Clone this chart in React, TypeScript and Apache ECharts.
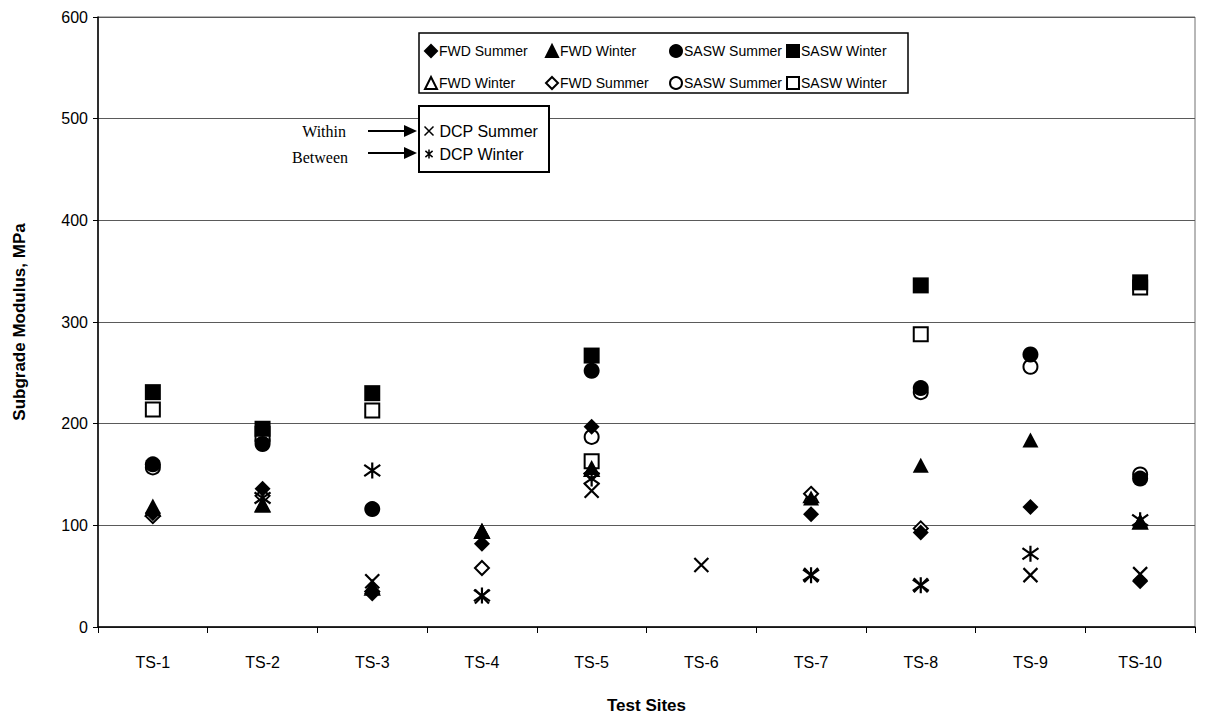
import React, { useEffect, useRef } from "react";
import * as echarts from "echarts";

const sites = ["TS-1", "TS-2", "TS-3", "TS-4", "TS-5", "TS-6", "TS-7", "TS-8", "TS-9", "TS-10"];

// "Within" markers (filled)
const fwdSummerFilled = [112, 136, 33, 82, 197, null, 111, 93, 118, 45];
const fwdWinterFilled = [119, 120, 40, 95, 157, null, 127, 159, 184, 104];
const saswSummerFilled = [160, 180, 116, null, 252, null, null, 235, 268, 146];
const saswWinterFilled = [231, 195, 230, null, 267, null, null, 336, null, 339];
// "Between" markers (open)
const fwdWinterOpen = [116, 120, 38, 94, 155, null, 129, null, null, 103];
const fwdSummerOpen = [109, 129, 35, 58, 151, null, 131, 97, null, null];
const saswSummerOpen = [157, 183, null, null, 187, null, null, 231, 256, 150];
const saswWinterOpen = [214, 190, 213, null, 163, null, null, 288, null, 334];
// DCP
const dcpSummer = [null, null, 45, 30, 134, 61, 51, 41, 51, 52];
const dcpWinter = [null, 127, 154, 31, 146, null, 51, 41, 72, 105];

const yTicks = [0, 100, 200, 300, 400, 500, 600];

const FONT = "Liberation Sans, Arial, sans-serif";
const X_PATH = "path://M0,0L10,10M10,0L0,10";
const AST_PATH = "path://M1,1.5L9,8.5M9,1.5L1,8.5M5,0L5,10";

export default function App() {
  const ref = useRef<HTMLDivElement>(null);
  useEffect(() => {
    if (!ref.current) return;
    const chart = echarts.init(ref.current, undefined, { renderer: "svg" });

    const filled = (name: string, data: any[], symbol: string, size: any) => ({
      name,
      type: "scatter",
      data,
      symbol,
      symbolSize: size,
      itemStyle: { color: "#000", borderColor: "#000", borderWidth: 0, opacity: 1 },
    });
    const open = (name: string, data: any[], symbol: string, size: any) => ({
      name,
      type: "scatter",
      data,
      symbol,
      symbolSize: size,
      itemStyle: { color: "#fff", borderColor: "#000", borderWidth: 2, opacity: 1 },
    });
    const stroke = (name: string, data: any[], symbol: string, size: any) => ({
      name,
      type: "scatter",
      data,
      symbol,
      symbolSize: size,
      itemStyle: { color: "none", borderColor: "#000", borderWidth: 2.2, opacity: 1 },
    });

    const legendCol = (left: number, names: string[]) => ({
      orient: "vertical",
      left,
      top: 44,
      padding: 0,
      itemGap: 18,
      itemWidth: 12,
      itemHeight: 12,
      z: 20,
      data: names,
      formatter: (n: string) => n.trim(),
      textStyle: { fontFamily: FONT, fontSize: 14, color: "#000", padding: [0, 0, 0, -3] },
      itemStyle: { borderWidth: 2, opacity: 1 },
      selectedMode: false,
    });

    chart.setOption({
      animation: false,
      backgroundColor: "#fff",
      grid: {
        left: 98,
        right: 30,
        top: 17,
        bottom: 92,
        show: true,
        borderColor: "#707070",
        borderWidth: 1,
      },
      xAxis: {
        type: "category",
        data: sites,
        boundaryGap: true,
        axisLine: { lineStyle: { color: "#000", width: 1.5 } },
        axisTick: { show: true, length: 6, lineStyle: { color: "#000" } },
        axisLabel: { margin: 27, fontFamily: FONT, fontSize: 16, color: "#000" },
        splitLine: { show: false },
        name: "Test Sites",
        nameLocation: "middle",
        nameGap: 70,
        nameTextStyle: { fontFamily: FONT, fontSize: 17, fontWeight: "bold", color: "#000" },
      },
      yAxis: {
        type: "value",
        min: yTicks[0],
        max: yTicks[yTicks.length - 1],
        interval: 100,
        axisLine: { show: true, lineStyle: { color: "#000", width: 1.5 } },
        axisTick: { show: true, length: 5, lineStyle: { color: "#000" } },
        axisLabel: { margin: 10, fontFamily: FONT, fontSize: 16, color: "#000" },
        splitLine: { show: true, lineStyle: { color: "#5a5a5a", width: 1 } },
        name: "Subgrade Modulus, MPa",
        nameLocation: "middle",
        nameRotate: 90,
        nameGap: 70,
        nameTextStyle: { fontFamily: FONT, fontSize: 17, fontWeight: "bold", color: "#000" },
      },
      legend: [
        legendCol(424, ["FWD Summer", "FWD Winter "]),
        legendCol(545, ["FWD Winter", "FWD Summer "]),
        legendCol(669, ["SASW Summer", "SASW Summer "]),
        legendCol(786, ["SASW Winter", "SASW Winter "]),
        {
          orient: "vertical",
          left: 422,
          top: 123,
          padding: 0,
          itemGap: 7,
          itemWidth: 9,
          itemHeight: 9,
          z: 20,
          data: ["DCP Summer", "DCP Winter"],
          textStyle: { fontFamily: FONT, fontSize: 16, color: "#000", padding: [0, 0, 0, 1] },
          itemStyle: { borderWidth: 1.5, borderColor: "#000", opacity: 1 },
          selectedMode: false,
        },
      ],
      graphic: [
        {
          type: "rect",
          z: 10,
          shape: { x: 419, y: 33, width: 489, height: 60 },
          style: { fill: "#fff", stroke: "#000", lineWidth: 1.5 },
        },
        {
          type: "rect",
          z: 10,
          shape: { x: 419, y: 106, width: 130, height: 66 },
          style: { fill: "#fff", stroke: "#000", lineWidth: 2 },
        },
        {
          type: "text",
          z: 10,
          x: 346,
          y: 131,
          style: {
            text: "Within",
            font: "16px 'Liberation Serif', 'Times New Roman', serif",
            fill: "#000",
            align: "right",
            verticalAlign: "middle",
          },
        },
        {
          type: "text",
          z: 10,
          x: 348,
          y: 157,
          style: {
            text: "Between",
            font: "16px 'Liberation Serif', 'Times New Roman', serif",
            fill: "#000",
            align: "right",
            verticalAlign: "middle",
          },
        },
        { type: "line", z: 10, shape: { x1: 368, y1: 131, x2: 406, y2: 131 }, style: { stroke: "#000", lineWidth: 2 } },
        { type: "polygon", z: 10, shape: { points: [[404, 125], [417, 131], [404, 137]] }, style: { fill: "#000" } },
        { type: "line", z: 10, shape: { x1: 368, y1: 153, x2: 406, y2: 153 }, style: { stroke: "#000", lineWidth: 2 } },
        { type: "polygon", z: 10, shape: { points: [[404, 147], [417, 153], [404, 159]] }, style: { fill: "#000" } },
      ],
      series: [
        open("FWD Winter ", fwdWinterOpen, "triangle", [14, 13]),
        open("FWD Summer ", fwdSummerOpen, "diamond", 14),
        open("SASW Summer ", saswSummerOpen, "circle", 14),
        open("SASW Winter ", saswWinterOpen, "rect", 14),
        filled("FWD Summer", fwdSummerFilled, "diamond", 16),
        filled("FWD Winter", fwdWinterFilled, "triangle", [16, 15]),
        filled("SASW Summer", saswSummerFilled, "circle", 16),
        filled("SASW Winter", saswWinterFilled, "rect", 16),
        stroke("DCP Summer", dcpSummer, X_PATH, 14),
        stroke("DCP Winter", dcpWinter, AST_PATH, 16),
      ],
    });
    return () => chart.dispose();
  }, []);
  return <div ref={ref} style={{ width: 1225, height: 719, margin: -8 }} />;
}
